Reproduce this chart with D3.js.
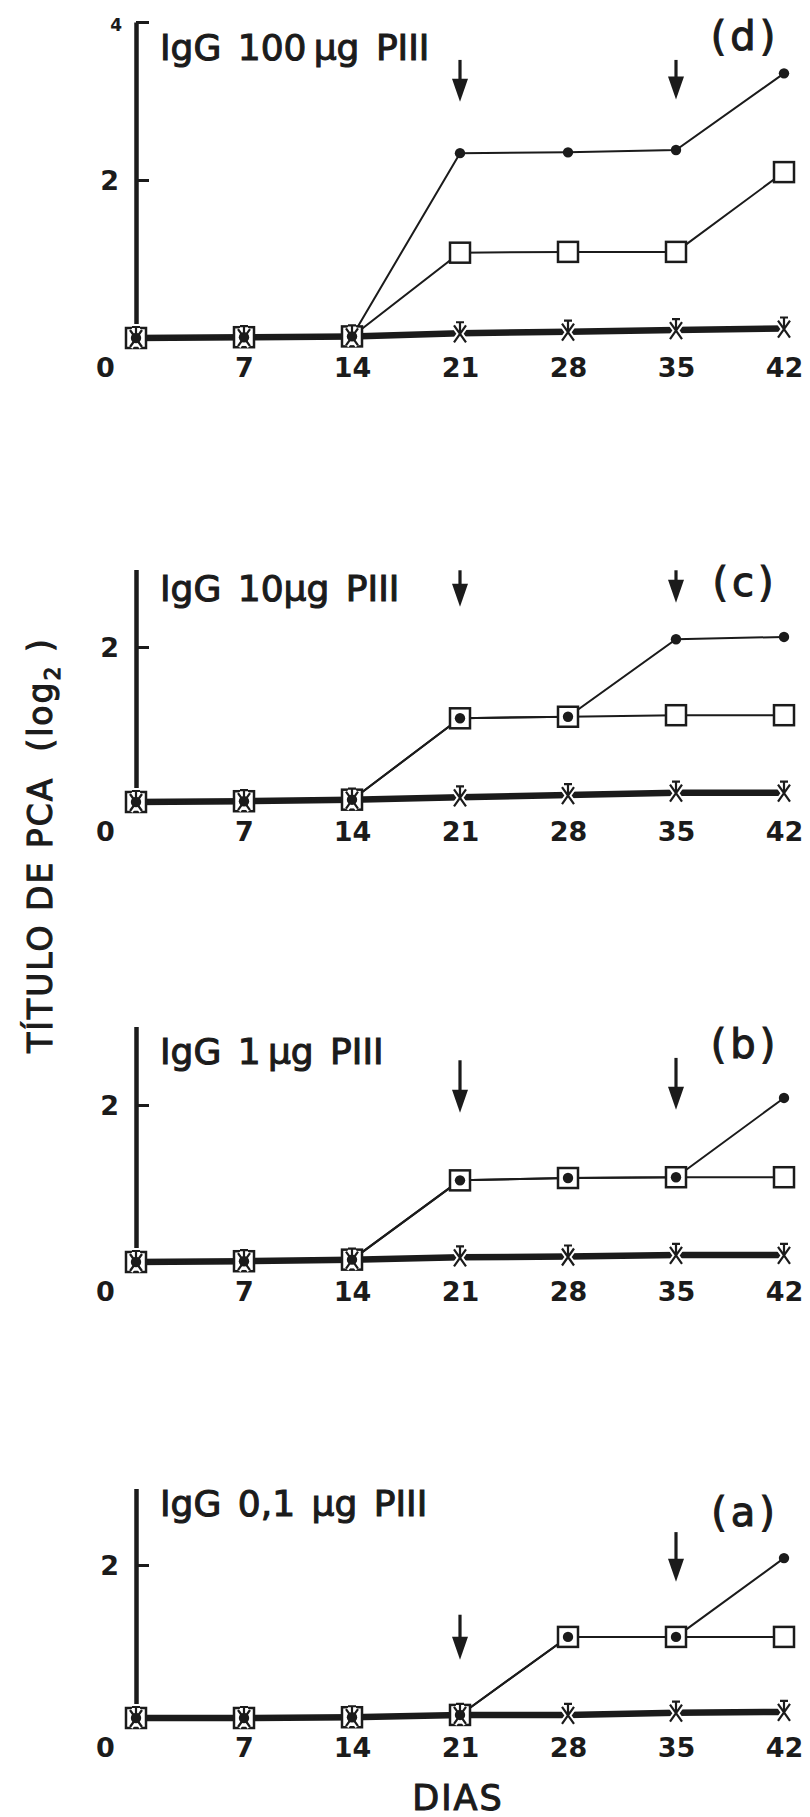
<!DOCTYPE html>
<html>
<head>
<meta charset="utf-8">
<script src="https://cdn.jsdelivr.net/npm/d3@7"></script>
<style>
  body { margin: 0; background: #fff; }
  text { font-family: "DejaVu Sans", sans-serif; fill: #1b1b1b; }
  .heavy { stroke: #1b1b1b; stroke-width: 1.1px; }
</style>
</head>
<body>
<svg id="chart"></svg>
<script>
// days after immunization
const days = [0, 7, 14, 21, 28, 35, 42];
const dayLabels = ["0", "7", "14", "21", "28", "35", "42"];

// (d) IgG 100 µg PIII
const dotsD    = [0, 0.01, 0.02, 2.34, 2.35, 2.38, 3.35];
const squaresD = [0, 0.01, 0.02, 1.08, 1.09, 1.09, 2.10];
const controlD = [0, 0.01, 0.02, 0.06, 0.08, 0.10, 0.12];
// (c) IgG 10 µg PIII
const dotsC    = [0, 0.01, 0.03, 1.08, 1.10, 2.10, 2.13];
const squaresC = [0, 0.01, 0.03, 1.08, 1.10, 1.12, 1.12];
const controlC = [0, 0.01, 0.03, 0.06, 0.09, 0.12, 0.12];
// (b) IgG 1 µg PIII
const dotsB    = [0, 0.01, 0.03, 1.04, 1.07, 1.08, 2.09];
const squaresB = [0, 0.01, 0.03, 1.04, 1.07, 1.08, 1.08];
const controlB = [0, 0.01, 0.03, 0.06, 0.07, 0.09, 0.09];
// (a) IgG 0,1 µg PIII
const dotsA    = [0, 0, 0.01, 0.04, 1.06, 1.06, 2.09];
const squaresA = [0, 0, 0.01, 0.04, 1.06, 1.06, 1.06];
const controlA = [0, 0, 0.01, 0.04, 0.04, 0.07, 0.08];

// booster arrows: [day, top value, tip value]
const arrowsD = [[21, 3.52, 2.99], [35, 3.52, 3.02]];
const arrowsC = [[21, 2.99, 2.52], [35, 2.99, 2.57]];
const arrowsB = [[21, 2.57, 1.90], [35, 2.60, 1.94]];
const arrowsA = [[21, 1.35, 0.76], [35, 2.43, 1.78]];

const titles = ["IgG 100\u2009\u03bcg PIII", "IgG 10\u03bcg PIII", "IgG 1\u2009\u03bcg  PIII", "IgG  0,1 \u03bcg  PIII"];
const tags = ["(d)", "(c)", "(b)", "(a)"];

const width = 810, height = 1817;

const svg = d3.select("#chart")
    .attr("width", width)
    .attr("height", height);

const x = d3.scaleLinear().domain([0, 42]).range([136, 784]);

// panel placement (baseline y, pixels per log2 unit, axis top)
const panels = [
    {y0: 338,  unit: 79,   top: 4, ticks: [2, 4], dots: dotsD, squares: squaresD, control: controlD, arrows: arrowsD, titleY: 60,   tagY: 50},
    {y0: 802,  unit: 77.5, top: 3, ticks: [2],    dots: dotsC, squares: squaresC, control: controlC, arrows: arrowsC, titleY: 601,  tagY: 596},
    {y0: 1262, unit: 78.5, top: 3, ticks: [2],    dots: dotsB, squares: squaresB, control: controlB, arrows: arrowsB, titleY: 1064, tagY: 1058},
    {y0: 1718, unit: 76.5, top: 3, ticks: [2],    dots: dotsA, squares: squaresA, control: controlA, arrows: arrowsA, titleY: 1516, tagY: 1526}
];

function drawPanel(p, i) {
    const g = svg.append("g");
    const y = d3.scaleLinear()
        .domain([0, p.top])
        .range([p.y0, p.y0 - p.top * p.unit]);

    // y axis, ticks pointing inward, labels outside
    const yAxis = g.append("g")
        .attr("transform", `translate(${x(0)},0)`)
        .call(d3.axisLeft(y)
            .tickValues(p.ticks)
            .tickSizeInner(-13)
            .tickSizeOuter(0)
            .tickPadding(16)
            .tickFormat(d3.format("d")));
    yAxis.select(".domain").attr("stroke", "#1b1b1b").attr("stroke-width", 4.5);
    yAxis.selectAll(".tick line").attr("stroke", "#1b1b1b").attr("stroke-width", 3);
    yAxis.selectAll(".tick text")
        .style("font-size", d => d === 4 ? "17px" : "27px")
        .style("font-weight", "bold")
        .attr("dy", d => d === 4 ? "0.5em" : "0.35em")
        .attr("x", d => d === 4 ? -14 : -17);

    // x tick labels (no axis line, the control curve sits on it)
    const xAxis = g.append("g")
        .attr("transform", `translate(0,${p.y0 + 20})`)
        .call(d3.axisBottom(x)
            .tickValues(days)
            .tickSize(0)
            .tickPadding(0)
            .tickFormat((d, k) => dayLabels[k]));
    xAxis.select(".domain").remove();
    xAxis.selectAll(".tick text")
        .style("font-size", "27px")
        .style("font-weight", "bold")
        .attr("dy", "0.72em")
        .attr("x", d => d === 0 ? -31 : 0);

    const line = d3.line()
        .x((d, k) => x(days[k]))
        .y(d => y(d));

    // control curve: heavy line
    g.append("path")
        .datum(p.control)
        .attr("d", line)
        .attr("fill", "none")
        .attr("stroke", "#1b1b1b")
        .attr("stroke-width", 6.5);

    g.append("path")
        .datum(p.squares)
        .attr("d", line)
        .attr("fill", "none")
        .attr("stroke", "#1b1b1b")
        .attr("stroke-width", 2);

    g.append("path")
        .datum(p.dots)
        .attr("d", line)
        .attr("fill", "none")
        .attr("stroke", "#1b1b1b")
        .attr("stroke-width", 2);

    // markers
    g.selectAll(".sq")
        .data(p.squares)
        .enter().append("rect")
        .attr("class", "sq")
        .attr("x", (d, k) => x(days[k]) - 10)
        .attr("y", d => y(d) - 10)
        .attr("width", 20)
        .attr("height", 20)
        .attr("fill", "#fff")
        .attr("stroke", "#1b1b1b")
        .attr("stroke-width", 2.5);

    g.selectAll(".ctl")
        .data(p.control)
        .enter().append("path")
        .attr("class", "ctl")
        .attr("transform", (d, k) => `translate(${x(days[k])},${y(d)})`)
        .attr("d", "M-6,-8L6,9M6,-8L-6,9M0,-11L0,0M-4,-11L4,-11")
        .attr("fill", "none")
        .attr("stroke", "#fff")
        .attr("stroke-width", 6)
        .clone()
        .attr("stroke", "#1b1b1b")
        .attr("stroke-width", 2.2);

    g.selectAll(".dot")
        .data(p.dots)
        .enter().append("circle")
        .attr("class", "dot")
        .attr("cx", (d, k) => x(days[k]))
        .attr("cy", d => y(d))
        .attr("r", 5.2)
        .attr("fill", "#1b1b1b");

    // booster arrows
    p.arrows.forEach(a => {
        const ax = x(a[0]), y1 = y(a[1]), y2 = y(a[2]);
        g.append("line")
            .attr("x1", ax).attr("x2", ax)
            .attr("y1", y1).attr("y2", y2 - 12)
            .attr("stroke", "#1b1b1b")
            .attr("stroke-width", 3.2);
        g.append("path")
            .attr("d", `M${ax - 8},${y2 - 23}L${ax + 8},${y2 - 23}L${ax},${y2}Z`)
            .attr("fill", "#1b1b1b");
    });

    g.append("text")
        .attr("class", "heavy")
        .attr("x", 160)
        .attr("y", p.titleY)
        .style("font-size", "36px")
        .style("word-spacing", "5px")
        .text(titles[i]);

    g.append("text")
        .attr("class", "heavy")
        .attr("x", 745)
        .attr("y", p.tagY)
        .attr("text-anchor", "middle")
        .style("font-size", "40px")
        .style("letter-spacing", "4px")
        .text(tags[i]);
}

panels.forEach(drawPanel);

// shared axis titles
svg.append("text")
    .attr("class", "heavy")
    .attr("transform", "translate(52,845) rotate(-90)")
    .attr("text-anchor", "middle")
    .style("font-size", "33px")
    .style("letter-spacing", "2px")
    .html("TÍTULO DE PCA&#160;&#160;(log<tspan dy='8' font-size='22px'>2</tspan><tspan dy='-8'>&#160;)</tspan>");

svg.append("text")
    .attr("class", "heavy")
    .attr("x", 458)
    .attr("y", 1810)
    .attr("text-anchor", "middle")
    .style("font-size", "35px")
    .style("letter-spacing", "2px")
    .text("DIAS");
</script>
</body>
</html>
